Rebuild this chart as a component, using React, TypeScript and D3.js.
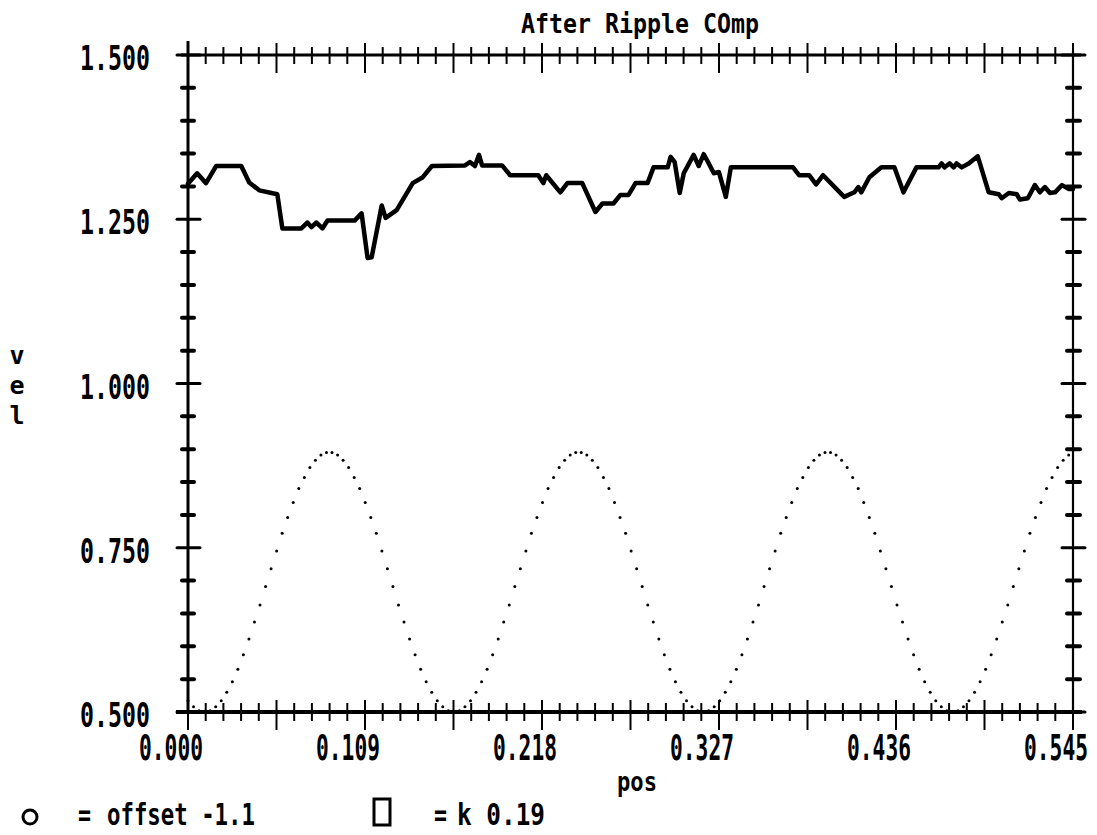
import React from "react";
import * as d3 from "d3";

// ---------- data ----------
const TITLE = "After Ripple COmp";
const X_LABEL = "pos";
const Y_LABEL = ["v", "e", "l"];

const X_TICK_VALUES = [0, 0.109, 0.218, 0.327, 0.436, 0.545];
const X_TICK_LABELS = ["0.000", "0.109", "0.218", "0.327", "0.436", "0.545"];
const Y_TICK_VALUES = [0.5, 0.75, 1.0, 1.25, 1.5];
const Y_TICK_LABELS = ["0.500", "0.750", "1.000", "1.250", "1.500"];

// solid series: velocity after ripple compensation
const VEL_POS = [
  0.0, 0.0056, 0.0111, 0.0173, 0.0328, 0.0377, 0.0439, 0.055,
  0.0581, 0.0698, 0.0735, 0.076, 0.0791, 0.0828, 0.0859,
  0.1026, 0.1069, 0.1106, 0.1131, 0.1193, 0.1217, 0.1285,
  0.1384, 0.1446, 0.1502, 0.1706, 0.1736, 0.1767, 0.1792, 0.1811,
  0.1934, 0.1984, 0.2157, 0.2188, 0.2206, 0.2293, 0.2336, 0.2428,
  0.2509, 0.2552, 0.262, 0.2663, 0.2713, 0.2756, 0.283,
  0.2867, 0.2954, 0.2972, 0.2997, 0.3028, 0.3053,
  0.3114, 0.3145, 0.3176, 0.3207, 0.3238, 0.3269,
  0.3312, 0.3343, 0.3726, 0.3763, 0.3825, 0.3868, 0.3911,
  0.4041, 0.4103, 0.4128, 0.4146, 0.4196, 0.427, 0.435,
  0.4406, 0.4486, 0.4622, 0.4641, 0.4659, 0.469, 0.4715, 0.4733, 0.4764, 0.4808,
  0.4863, 0.4931, 0.4993, 0.5011, 0.5055, 0.5104, 0.5123, 0.5172,
  0.5215, 0.5246, 0.5277, 0.5308, 0.5339, 0.5382, 0.5425, 0.545,
];
const VEL_VALUES = [
  1.304, 1.32, 1.305, 1.331, 1.331, 1.306, 1.294, 1.288,
  1.236, 1.236, 1.245, 1.238, 1.245, 1.236, 1.248,
  1.248, 1.259, 1.191, 1.192, 1.271, 1.252, 1.264,
  1.305, 1.314, 1.331, 1.332, 1.337, 1.331, 1.348, 1.332,
  1.332, 1.317, 1.317, 1.305, 1.317, 1.291, 1.305, 1.305,
  1.261, 1.274, 1.274, 1.287, 1.287, 1.305, 1.305,
  1.329, 1.329, 1.345, 1.337, 1.29, 1.32,
  1.348, 1.331, 1.349, 1.335, 1.32, 1.322,
  1.284, 1.329, 1.329, 1.317, 1.317, 1.303, 1.317,
  1.284, 1.291, 1.299, 1.291, 1.314, 1.329, 1.329,
  1.291, 1.329, 1.329, 1.335, 1.329, 1.335, 1.329, 1.335, 1.329, 1.335,
  1.346, 1.291, 1.288, 1.282, 1.29, 1.288, 1.28, 1.282,
  1.302, 1.291, 1.299, 1.29, 1.291, 1.302, 1.296, 1.296,
];

// dotted series: ripple, sampled every RIPPLE_STEP in pos
const RIPPLE_STEP = 0.003411;
const RIPPLE_VALUES = [
  0.517, 0.508, 0.502,
  0.5, 0.502, 0.508, 0.517, 0.53, 0.546, 0.565, 0.587, 0.611, 0.637, 0.663, 0.691, 0.718, 0.745, 0.772,
  0.796, 0.819, 0.84, 0.857, 0.872, 0.883, 0.891, 0.895, 0.895, 0.891, 0.883, 0.872, 0.857, 0.84, 0.819,
  0.796, 0.772, 0.745, 0.718, 0.691, 0.663, 0.637, 0.611, 0.587, 0.565, 0.546, 0.53, 0.517, 0.508, 0.502,
  0.5, 0.502, 0.508, 0.517, 0.53, 0.546, 0.565, 0.587, 0.611, 0.637, 0.663, 0.691, 0.718, 0.745, 0.772,
  0.796, 0.819, 0.84, 0.857, 0.872, 0.883, 0.891, 0.895, 0.895, 0.891, 0.883, 0.872, 0.857, 0.84, 0.819,
  0.796, 0.772, 0.745, 0.718, 0.691, 0.663, 0.637, 0.611, 0.587, 0.565, 0.546, 0.53, 0.517, 0.508, 0.502,
  0.5, 0.502, 0.508, 0.517, 0.53, 0.546, 0.565, 0.587, 0.611, 0.637, 0.663, 0.691, 0.718, 0.745, 0.772,
  0.796, 0.819, 0.84, 0.857, 0.872, 0.883, 0.891, 0.895, 0.895, 0.891, 0.883, 0.872, 0.857, 0.84, 0.819,
  0.796, 0.772, 0.745, 0.718, 0.691, 0.663, 0.637, 0.611, 0.587, 0.565, 0.546, 0.53, 0.517, 0.508, 0.502,
  0.5, 0.502, 0.508, 0.517, 0.53, 0.546, 0.565, 0.587, 0.611, 0.637, 0.663, 0.691, 0.718, 0.745, 0.772,
  0.796, 0.819, 0.84, 0.857, 0.872, 0.883, 0.891, 0.895,
];

const LEGEND_1 = "offset -1.1";
const LEGEND_2 = "k 0.19";

// ---------- layout ----------
const W = 1097;
const H = 835;
const FONT = "'DejaVu Sans Mono', monospace";
const ADV = 0.602; // monospace advance per em

// condensed text: horizontally scaled so that it spans `width` px starting at x
function CText({ x, y, width, size, children }: { x: number; y: number; width: number; size: number; children: string }) {
  const natural = children.length * ADV * size;
  const sx = width / natural;
  return (
    <text transform={`translate(${x},${y}) scale(${sx},1)`} x={0} y={0} fontSize={size} fill="#000">
      {children}
    </text>
  );
}

export default function App() {
  const x = d3.scaleLinear().domain([0, 0.545]).range([188, 1073]);
  const y = d3.scaleLinear().domain([0.5, 1.5]).range([712, 55]);

  const xMinor = d3.range(0, 51).map((i) => ({ v: i * 0.0109, long: i % 5 === 0 }));
  const yMinor = d3.range(0, 21).map((i) => ({ v: 0.5 + i * 0.05, major: i % 5 === 0 }));

  const velData = VEL_POS.map((p, i) => [p, VEL_VALUES[i]] as [number, number]);
  const line = d3
    .line<[number, number]>()
    .x((d) => x(d[0]))
    .y((d) => y(d[1]));

  const ripple = RIPPLE_VALUES.map((v, i) => [i * RIPPLE_STEP, v] as [number, number]).filter(
    (d) => d[0] <= 0.5455
  );

  const top = y(1.5);
  const bottom = y(0.5);
  const left = x(0);
  const right = x(0.545);

  return (
    <svg
      width={W}
      height={H}
      style={{ position: "absolute", left: 0, top: 0, display: "block", background: "#fff" }}
      fontFamily={FONT}
      fontWeight="bold"
    >
      <rect x={0} y={0} width={W} height={H} fill="#fff" />

      {/* title */}
      <CText x={521} y={33} width={238} size={27}>
        {TITLE}
      </CText>

      {/* axes frame */}
      <line x1={181} x2={1081} y1={top} y2={top} stroke="#000" strokeWidth={3} />
      <line x1={176} x2={1082} y1={bottom} y2={bottom} stroke="#000" strokeWidth={4} />
      <line x1={left} x2={left} y1={41} y2={bottom} stroke="#000" strokeWidth={3} />
      <line x1={right} x2={right} y1={51} y2={bottom + 2} stroke="#000" strokeWidth={2.2} />

      {/* top and bottom ticks */}
      {xMinor.map((t, i) => (
        <g key={"xt" + i}>
          <line
            x1={x(t.v)}
            x2={x(t.v)}
            y1={t.long ? top - 12 : top - 8}
            y2={t.long ? top + 18 : top + 9}
            stroke="#000"
            strokeWidth={2}
          />
          <line
            x1={x(t.v)}
            x2={x(t.v)}
            y1={t.long ? bottom - 12 : bottom - 9}
            y2={t.long ? bottom + 18 : bottom + 9}
            stroke="#000"
            strokeWidth={2}
          />
        </g>
      ))}

      {/* left and right ticks */}
      {yMinor.map((t, i) => (
        <g key={"yt" + i}>
          <line
            x1={t.major ? left - 11 : left - 6}
            x2={t.major ? left + 12 : left + 6}
            y1={y(t.v)}
            y2={y(t.v)}
            stroke="#000"
            strokeWidth={t.major ? 3 : 4}
            strokeLinecap="round"
          />
          <line
            x1={t.major ? right - 11 : right - 6}
            x2={t.major ? right + 12 : right + 7}
            y1={y(t.v)}
            y2={y(t.v)}
            stroke="#000"
            strokeWidth={t.major ? 3 : 4}
            strokeLinecap="round"
          />
        </g>
      ))}

      {/* y tick labels */}
      {Y_TICK_VALUES.map((v, i) => (
        <CText key={"yl" + i} x={80} y={y(v) + 15} width={70} size={33}>
          {Y_TICK_LABELS[i]}
        </CText>
      ))}

      {/* x tick labels */}
      {X_TICK_VALUES.map((v, i) => (
        <CText key={"xl" + i} x={x(v) - 49} y={760} width={64} size={36}>
          {X_TICK_LABELS[i]}
        </CText>
      ))}

      {/* axis titles */}
      <CText x={617} y={791} width={40} size={27}>
        {X_LABEL}
      </CText>
      {Y_LABEL.map((c, i) => (
        <text key={"yal" + i} x={17} y={364 + i * 30} fontSize={25} textAnchor="middle" fill="#000">
          {c}
        </text>
      ))}

      {/* ripple dots */}
      {ripple.map((d, i) => (
        <circle key={"rp" + i} cx={x(d[0])} cy={y(d[1])} r={1.5} fill="#000" />
      ))}

      {/* velocity line */}
      <path
        d={line(velData) || ""}
        fill="none"
        stroke="#000"
        strokeWidth={4.5}
        strokeLinejoin="round"
        strokeLinecap="round"
      />

      {/* legend */}
      <circle cx={30} cy={817} r={7} fill="none" stroke="#000" strokeWidth={3} />
      <CText x={78} y={825} width={13} size={31}>
        =
      </CText>
      <CText x={107} y={825} width={148} size={31}>
        {LEGEND_1}
      </CText>
      <rect x={374} y={799} width={16} height={26} fill="none" stroke="#000" strokeWidth={3} />
      <CText x={434} y={825} width={13} size={31}>
        =
      </CText>
      <CText x={457} y={825} width={88} size={31}>
        {LEGEND_2}
      </CText>
    </svg>
  );
}
